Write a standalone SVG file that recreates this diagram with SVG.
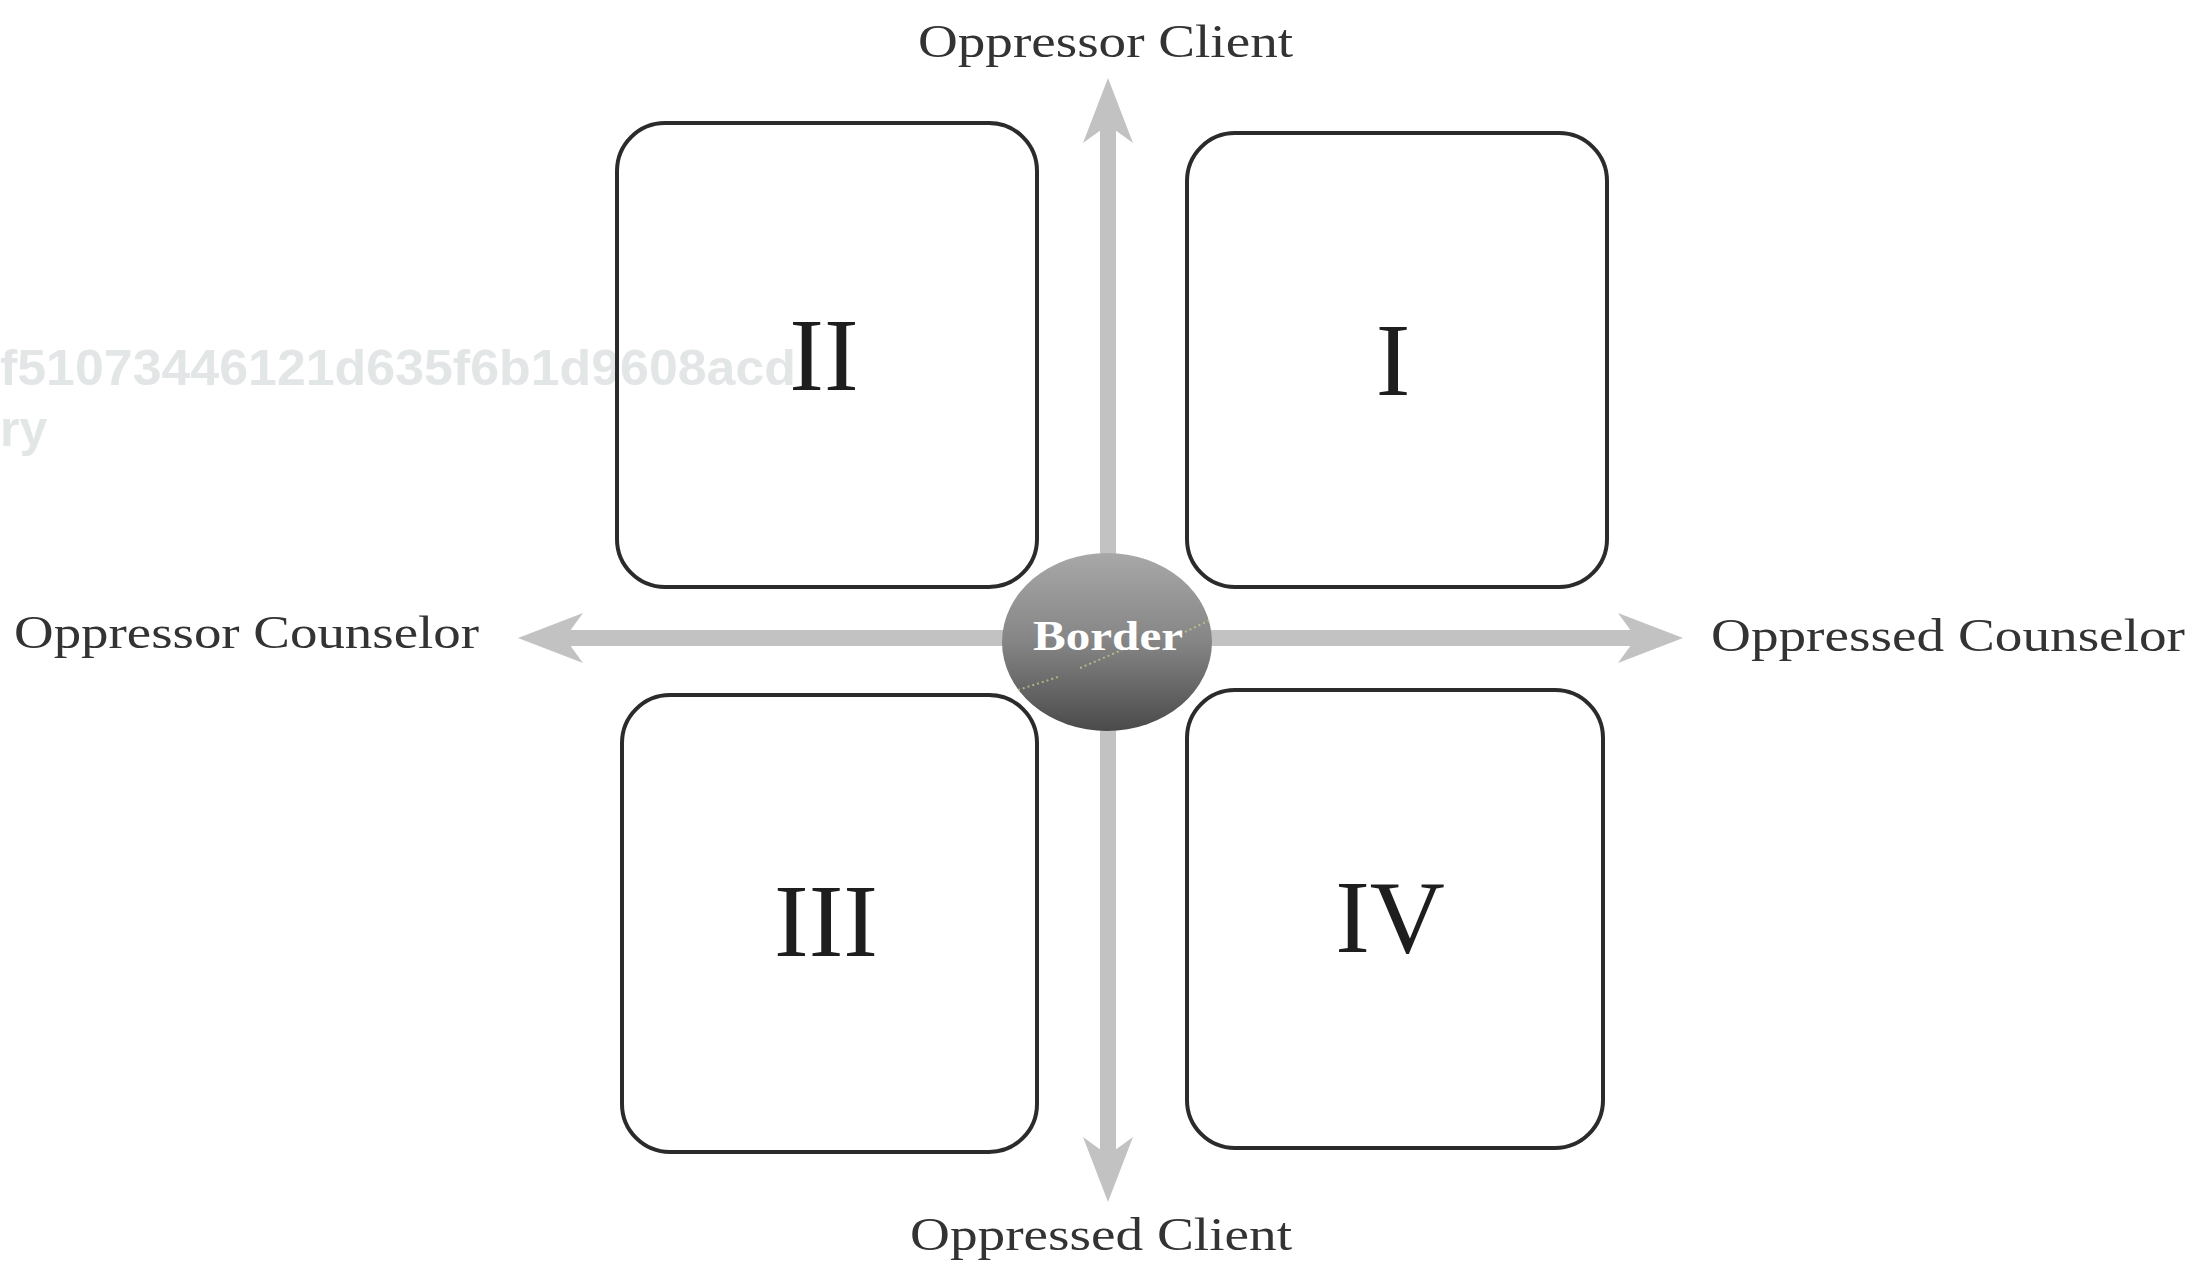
<svg xmlns="http://www.w3.org/2000/svg" width="2210" height="1265" viewBox="0 0 2210 1265">
  <style>
    .box { fill: none; stroke: #2b2b2b; stroke-width: 4; }
    .num { font-family: "Liberation Serif", "Times New Roman", serif; font-size: 104px; fill: #1e1e1e; text-anchor: middle; }
    .lbl { font-family: "Liberation Serif", "Times New Roman", serif; font-size: 46px; fill: #333333; }
    .axis { fill: none; stroke: #c2c2c2; stroke-width: 16; marker-start: url(#head); marker-end: url(#head); }
    .wm { font-family: "Liberation Sans", Arial, sans-serif; font-weight: bold; font-size: 50px; fill: #e3e6e6; }
  </style>
  <defs>
    <marker id="head" viewBox="-20 -30 80 60" markerWidth="80" markerHeight="60" refX="0" refY="0" markerUnits="userSpaceOnUse" orient="auto-start-reverse">
      <path d="M52,0 L-13,-25 L-1,-8.5 L-1,8.5 L-13,25 Z" fill="#c2c2c2"/>
    </marker>
    <linearGradient id="ballGrad" x1="0" y1="0" x2="0" y2="1">
      <stop offset="0" stop-color="#a8a8a8"/>
      <stop offset="0.5" stop-color="#858585"/>
      <stop offset="1" stop-color="#4a4a4a"/>
    </linearGradient>
  </defs>
  <rect x="0" y="0" width="2210" height="1265" fill="#ffffff"/>

  <g id="watermark">
    <text class="wm" x="0" y="385" textLength="796" lengthAdjust="spacingAndGlyphs">f51073446121d635f6b1d9608acd</text>
    <text class="wm" x="0" y="446">ry</text>
  </g>

  <g id="connectors">
    <line class="axis" x1="1108" y1="130" x2="1108" y2="1150"/>
    <line class="axis" x1="570" y1="638" x2="1631" y2="638"/>
  </g>

  <g id="quadrant-II">
    <rect class="box" x="617" y="123" width="420" height="464" rx="48" ry="48"/>
    <text class="num" x="824" y="390">II</text>
  </g>
  <g id="quadrant-I">
    <rect class="box" x="1187" y="133" width="420" height="454" rx="48" ry="48"/>
    <text class="num" x="1393" y="395">I</text>
  </g>
  <g id="quadrant-III">
    <rect class="box" x="622" y="695" width="415" height="457" rx="48" ry="48"/>
    <text class="num" x="826" y="956">III</text>
  </g>
  <g id="quadrant-IV">
    <rect class="box" x="1187" y="690" width="416" height="458" rx="48" ry="48"/>
    <text class="num" x="1390" y="952">IV</text>
  </g>

  <g id="border">
    <ellipse cx="1107" cy="642" rx="105" ry="89" fill="url(#ballGrad)"/>
    <path d="M1018,690 L1058,677 M1080,668 L1122,650 M1185,632 L1210,620" fill="none" stroke="#c9c98a" stroke-width="2" stroke-dasharray="2 3" opacity="0.75"/>
    <text x="1033" y="650" textLength="150" lengthAdjust="spacingAndGlyphs" font-family="'Liberation Serif', 'Times New Roman', serif" font-size="43" font-weight="bold" fill="#ffffff">Border</text>
  </g>

  <g id="label-top"><text class="lbl" x="918" y="57" textLength="375" lengthAdjust="spacingAndGlyphs">Oppressor Client</text></g>
  <g id="label-bottom"><text class="lbl" x="910" y="1250" textLength="382" lengthAdjust="spacingAndGlyphs">Oppressed Client</text></g>
  <g id="label-left"><text class="lbl" x="14" y="648" textLength="465" lengthAdjust="spacingAndGlyphs">Oppressor Counselor</text></g>
  <g id="label-right"><text class="lbl" x="1711" y="651" textLength="474" lengthAdjust="spacingAndGlyphs">Oppressed Counselor</text></g>
</svg>
